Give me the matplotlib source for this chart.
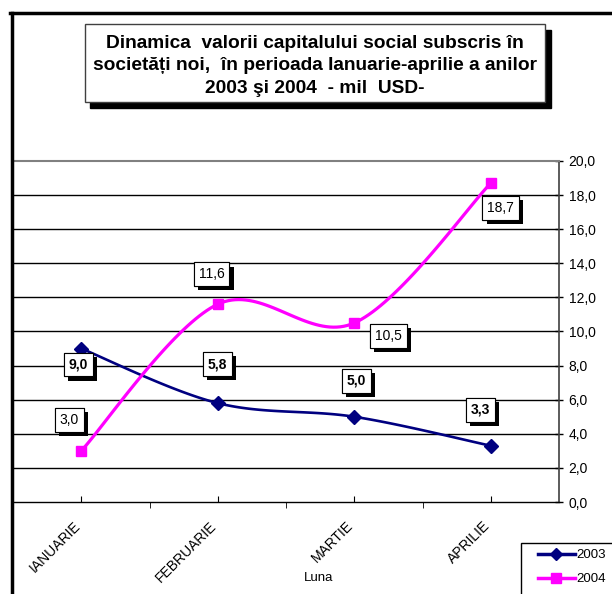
import numpy as np
import matplotlib
matplotlib.use("Agg")
import matplotlib.pyplot as plt
from matplotlib.patches import Rectangle
from matplotlib.lines import Line2D
from matplotlib.transforms import ScaledTranslation
import matplotlib.patheffects as pe

plt.rcParams['font.family'] = ['Liberation Sans', 'DejaVu Sans']

# data
luni = ["IANUARIE", "FEBRUARIE", "MARTIE", "APRILIE"]
val_2003 = [9.0, 5.8, 5.0, 3.3]
val_2004 = [3.0, 11.6, 10.5, 18.7]
titlu = ("Dinamica  valorii capitalului social subscris în\n"
         "societăți noi,  în perioada Ianuarie-aprilie a anilor\n"
         "2003 şi 2004  - mil  USD-")

W, H = 612, 594


def fx(px):
    return px / W


def fy(py):
    return 1 - py / H


def smooth(y, n=40):
    # bezier smoothing like Excel (catmull-rom control points)
    y = np.asarray(y, float)
    x = np.arange(len(y), dtype=float)
    P = np.column_stack([x, y])
    out = []
    for i in range(len(P) - 1):
        p0 = P[max(i - 1, 0)]
        p1 = P[i]
        p2 = P[i + 1]
        p3 = P[min(i + 2, len(P) - 1)]
        b1 = p1 + (p2 - p0) / 6
        b2 = p2 - (p3 - p1) / 6
        t = np.linspace(0, 1, n)[:, None]
        seg = ((1 - t) ** 3) * p1 + 3 * ((1 - t) ** 2) * t * b1 + 3 * (1 - t) * t ** 2 * b2 + t ** 3 * p2
        out.append(seg if i == 0 else seg[1:])
    c = np.vstack(out)
    return c[:, 0], c[:, 1]


fig = plt.figure(figsize=(W / 100, H / 100), dpi=100)

# outer chart frame
fig.add_artist(Line2D([fx(11.5), fx(11.5)], [fy(13), 0], color='black', lw=2.5, transform=fig.transFigure))
fig.add_artist(Line2D([fx(10), 1], [fy(13), fy(13)], color='black', lw=2.5, transform=fig.transFigure))

ax = fig.add_axes([fx(13), fy(502), fx(559) - fx(13), fy(161) - fy(502)])
ax.set_xlim(-0.5, 3.5)
ax.set_ylim(0, 20)

ax.spines['left'].set_visible(False)
ax.spines['top'].set_color('#808080')
ax.spines['top'].set_linewidth(1.5)
ax.spines['right'].set_color('#404040')
ax.spines['right'].set_linewidth(1.2)
ax.spines['bottom'].set_color('black')
ax.spines['bottom'].set_linewidth(1.0)

ax.yaxis.tick_right()
ax.set_yticks(np.arange(0, 20.1, 2))
ax.set_yticklabels([f"{v:.1f}".replace('.', ',') for v in np.arange(0, 20.1, 2)], fontsize=10)
ax.tick_params(axis='y', direction='inout', length=6, width=1, pad=4)
for v in np.arange(2, 19, 2):
    ax.axhline(v, color='black', lw=1, zorder=1)

ax.set_xticks(range(4))
ax.set_xticklabels(luni, rotation=45, ha='right', va='top', rotation_mode='anchor', fontsize=10)
ax.set_xticks([0.5, 1.5, 2.5], minor=True)
ax.tick_params(axis='x', which='major', direction='in', length=4, pad=12)
ax.tick_params(axis='x', which='minor', direction='out', length=4)
shift = ScaledTranslation(-8 / 100, 0, fig.dpi_scale_trans)
for lab in ax.get_xticklabels():
    lab.set_transform(lab.get_transform() + shift)
ax.set_xlabel("Luna", fontsize=9.5)
ax.xaxis.set_label_coords(0.56, -0.205)

x = np.arange(4)
sx, sy = smooth(val_2003)
ax.plot(sx, sy, color='#000080', lw=1.9, zorder=3)
ax.plot(x, val_2003, linestyle='none', marker='D', ms=7, color='#000080', zorder=4)
sx, sy = smooth(val_2004)
ax.plot(sx, sy, color='#FF00FF', lw=2.3, zorder=3)
ax.plot(x, val_2004, linestyle='none', marker='s', ms=7.5, color='#FF00FF', zorder=4)

off_2003 = [(-3, -16), (0, 39), (2, 36), (-10, 36)]
off_2004 = [(-12, 31), (-6, 30), (34, -13), (10, -25)]


def label(xi, yi, txt, off, bold):
    t = ax.annotate(txt, (xi, yi), xytext=off, textcoords='offset pixels',
                    ha='center', va='center', fontsize=10,
                    fontweight='bold' if bold else 'normal', zorder=6,
                    bbox=dict(boxstyle='square,pad=0.35', fc='white', ec='black', lw=0.8))
    t.get_bbox_patch().set_path_effects([
        pe.withSimplePatchShadow(offset=(3, -3), shadow_rgbFace='black', alpha=1.0),
        pe.Normal()])


for i in range(4):
    label(i, val_2003[i], f"{val_2003[i]:.1f}".replace('.', ','), off_2003[i], True)
    label(i, val_2004[i], f"{val_2004[i]:.1f}".replace('.', ','), off_2004[i], False)

# title box with shadow
fig.add_artist(Rectangle((fx(90), fy(108)), fx(551) - fx(90), fy(30) - fy(108),
                         transform=fig.transFigure, fc='black', ec='black', zorder=5))
fig.add_artist(Rectangle((fx(85), fy(102)), fx(545) - fx(85), fy(24) - fy(102),
                         transform=fig.transFigure, fc='white', ec='#404040', lw=1, zorder=6))
fig.text(fx(315), fy(66), titlu, ha='center', va='center', fontsize=13.8,
         fontweight='bold', linespacing=1.4, zorder=7)

# legend box
fig.add_artist(Rectangle((fx(520.5), -0.02), fx(620) - fx(520.5), fy(543) + 0.02,
                         transform=fig.transFigure, fc='white', ec='black', lw=1, zorder=5))
h1 = Line2D([], [], color='#000080', lw=2.5, marker='D', ms=6)
h2 = Line2D([], [], color='#FF00FF', lw=2.5, marker='s', ms=7)
leg = fig.legend([h1, h2], ["2003", "2004"], loc='upper left',
                 bbox_to_anchor=(fx(534), fy(545)), fontsize=9.5, frameon=False,
                 handlelength=2.8, handletextpad=0.1,
                 borderpad=0.3, labelspacing=0.9, borderaxespad=0)
leg.set_zorder(6)

fig.savefig("out.png", dpi=100)
